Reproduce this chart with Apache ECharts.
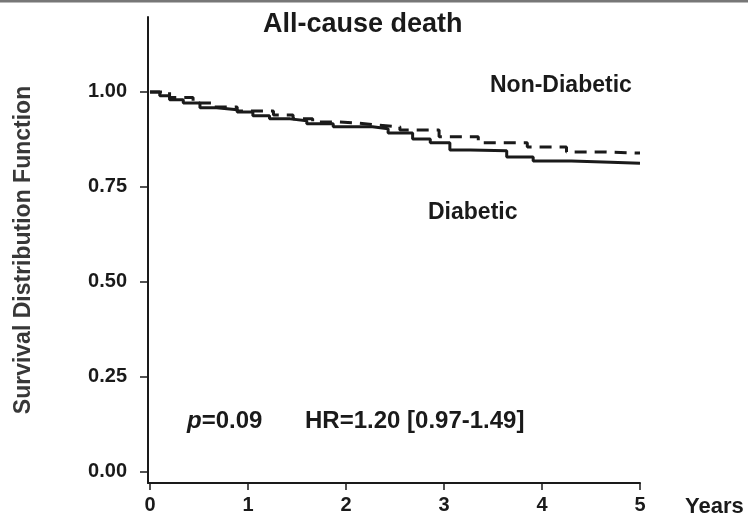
<!DOCTYPE html>
<html>
<head>
<meta charset="utf-8">
<script src="https://cdn.jsdelivr.net/npm/echarts@6/dist/echarts.min.js"></script>
<style>html,body{margin:0;padding:0;background:#fff;}#c{width:748px;height:520px;}</style>
</head>
<body>
<div id="c"></div>
<script>
var xTicks = [0, 1, 2, 3, 4, 5];
var yTicks = [0, 0.25, 0.5, 0.75, 1.0];

var diabeticT = [0, 0.1, 0.2, 0.34, 0.51, 0.68, 0.89, 1.05, 1.22, 1.43, 1.6, 1.87, 2.11, 2.27, 2.43, 2.68, 2.86, 3.06, 3.27, 3.64, 3.91, 4.3, 4.7, 5];
var diabeticS = [1.0, 0.99, 0.979, 0.971, 0.958, 0.953, 0.947, 0.937, 0.929, 0.924, 0.916, 0.908, 0.908, 0.903, 0.892, 0.876, 0.866, 0.847, 0.845, 0.829, 0.818, 0.815, 0.812, 0.811];

var nonDiabeticT = [0, 0.2, 0.44, 0.64, 0.89, 1.26, 1.46, 1.66, 1.91, 2.11, 2.32, 2.55, 2.95, 3.35, 3.85, 4.25, 4.65, 5];
var nonDiabeticS = [1.0, 0.985, 0.971, 0.960, 0.950, 0.939, 0.929, 0.921, 0.918, 0.913, 0.908, 0.900, 0.882, 0.866, 0.855, 0.842, 0.839, 0.838];

function pairs(t, s) { return t.map(function (v, i) { return [v, s[i]]; }); }

var FONT = '"Liberation Sans", Arial, sans-serif';
var INK = '#1a1a1a';

var chart = echarts.init(document.getElementById('c'), null, { renderer: 'canvas' });
chart.setOption({
  backgroundColor: '#fff',
  animation: false,
  grid: { left: 148, right: 108, top: 17, bottom: 37, containLabel: false, outerBoundsMode: 'none' },
  xAxis: {
    type: 'value', min: -0.02, max: 5,
    name: 'Years', nameLocation: 'end', nameGap: 45,
    nameTextStyle: { fontFamily: FONT, fontSize: 22, fontWeight: 'bold', color: INK, verticalAlign: 'top', padding: [13, 0, 0, 0] },
    axisLine: { onZero: false, lineStyle: { color: INK, width: 2 } },
    axisTick: { customValues: xTicks, length: 7, lineStyle: { color: INK, width: 1.5 } },
    axisLabel: { customValues: xTicks, fontFamily: FONT, fontSize: 20, fontWeight: 'bold', color: INK, margin: 12 },
    splitLine: { show: false }
  },
  yAxis: {
    type: 'value', min: -0.029, max: 1.197,
    name: 'Survival Distribution Function', nameLocation: 'middle', nameGap: 113,
    nameTextStyle: { fontFamily: FONT, fontSize: 23, fontWeight: 'bold', color: '#383838' },
    axisLine: { onZero: false, lineStyle: { color: INK, width: 2 } },
    axisTick: { customValues: yTicks, length: 8, lineStyle: { color: INK, width: 1.5 } },
    axisLabel: { customValues: yTicks, fontFamily: FONT, fontSize: 20, fontWeight: 'bold', color: INK, margin: 21,
      formatter: function (v) { return v.toFixed(2); } },
    splitLine: { show: false }
  },
  series: [
    { name: 'Diabetic', type: 'line', step: 'end', showSymbol: false, symbol: 'none',
      data: pairs(diabeticT, diabeticS), lineStyle: { color: INK, width: 3 } },
    { name: 'Non-Diabetic', type: 'line', step: 'end', showSymbol: false, symbol: 'none',
      data: pairs(nonDiabeticT, nonDiabeticS), lineStyle: { color: INK, width: 3, type: [12, 8] } }
  ],
  graphic: [
    { type: 'rect', shape: { x: 0, y: 0, width: 748, height: 2.5 }, style: { fill: '#777' }, silent: true },
    { type: 'text', x: 263, y: 25, style: { text: 'All-cause death', font: 'bold 27px ' + FONT, fill: INK, verticalAlign: 'middle' } },
    { type: 'text', x: 490, y: 86, style: { text: 'Non-Diabetic', font: 'bold 23px ' + FONT, fill: INK, verticalAlign: 'middle' } },
    { type: 'text', x: 428, y: 213, style: { text: 'Diabetic', font: 'bold 23px ' + FONT, fill: INK, verticalAlign: 'middle' } },
    { type: 'text', x: 187, y: 421, style: { text: '{i|p}=0.09', font: 'bold 24px ' + FONT, fill: INK, verticalAlign: 'middle',
      rich: { i: { fontStyle: 'italic', fontWeight: 'bold', fontSize: 24, fontFamily: FONT, fill: INK } } } },
    { type: 'text', x: 305, y: 421, style: { text: 'HR=1.20 [0.97-1.49]', font: 'bold 24px ' + FONT, fill: INK, verticalAlign: 'middle' } }
  ]
});
</script>
</body>
</html>
